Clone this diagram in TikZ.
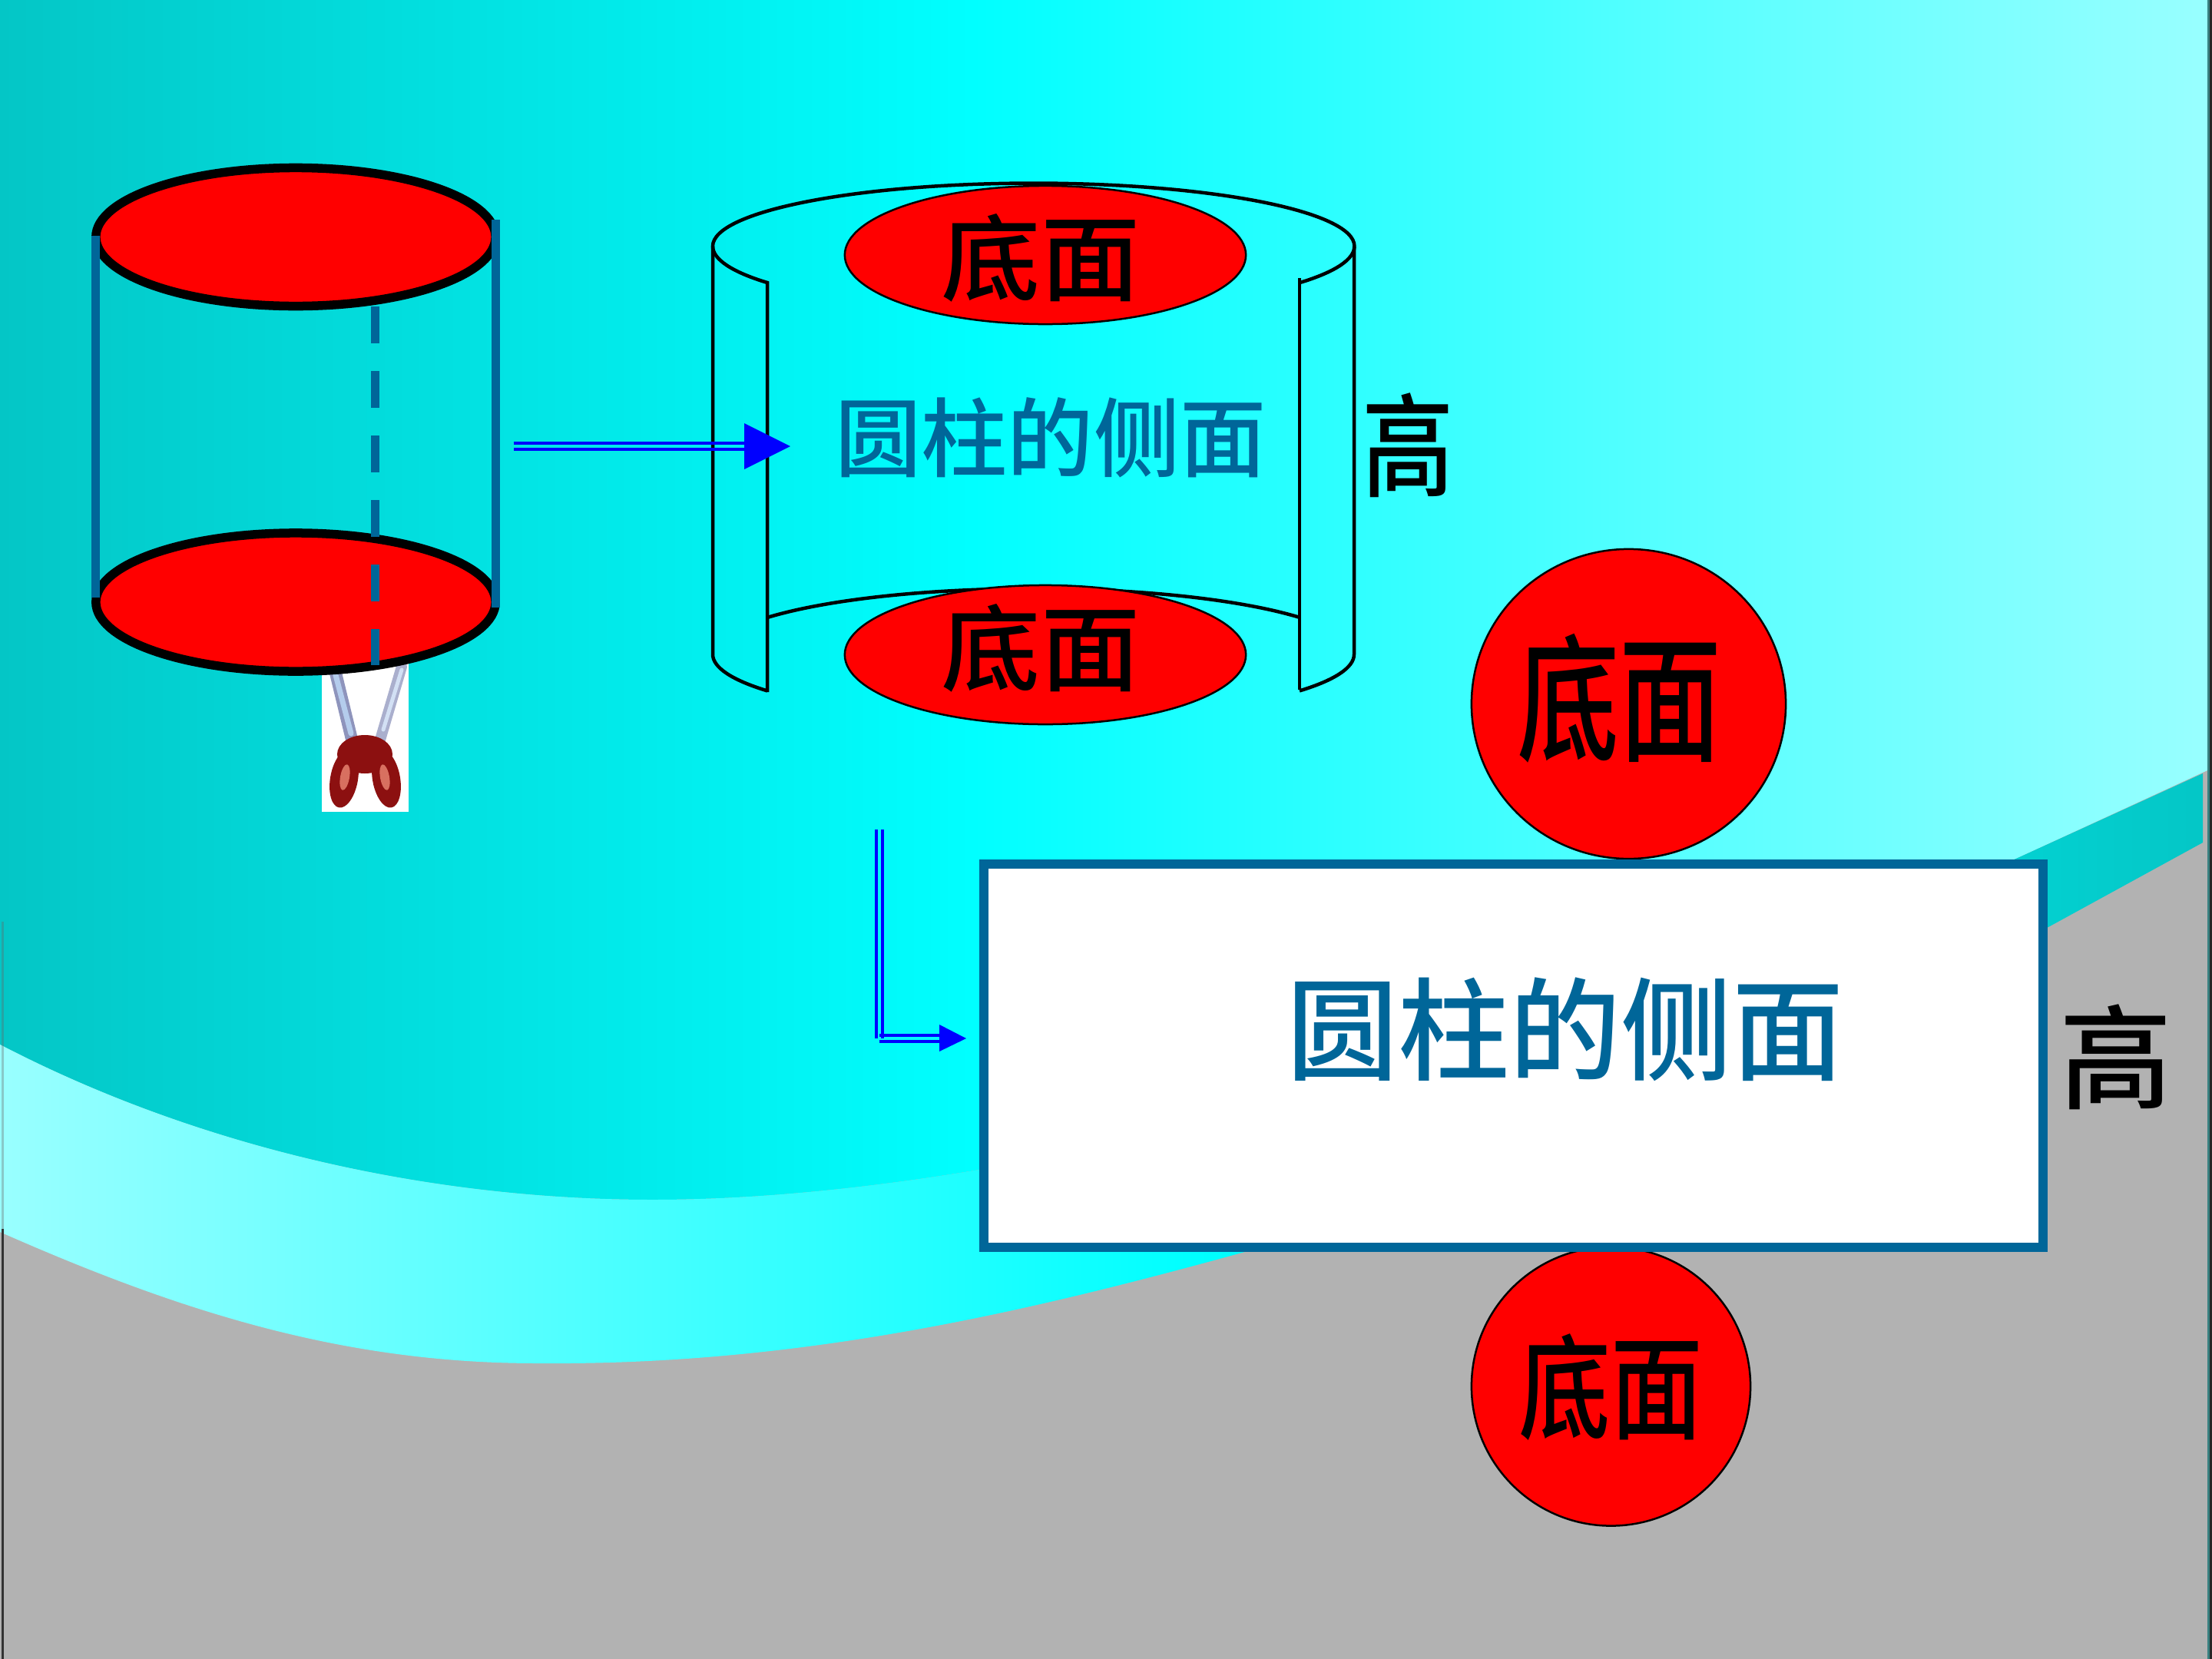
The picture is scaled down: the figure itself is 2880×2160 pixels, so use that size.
\documentclass[tikz,border=0pt]{standalone}
\usepackage{fontspec}
\usepackage{graphicx}
\usetikzlibrary{shapes.geometric}
\newfontfamily\cjk[BoldFont={Noto Sans CJK SC Bold}]{Noto Sans CJK SC Medium}
\definecolor{steel}{HTML}{006699}
\definecolor{paleaqua}{HTML}{99FFFF}
\definecolor{deepteal}{HTML}{04C6C6}
\definecolor{slab}{HTML}{B2B2B2}
\definecolor{pure}{HTML}{0000FF}
\definecolor{grip}{HTML}{8C1010}
\definecolor{gripglow}{HTML}{D87060}
\definecolor{steelblade}{HTML}{8E94BC}
\definecolor{bladeglow}{HTML}{B4CCEC}
% horizontal fades: the part 25bp..75bp spans the whole width of the filled rectangle
\pgfdeclarehorizontalshading{wallfade}{100bp}{color(0bp)=(deepteal); color(25bp)=(deepteal); color(47bp)=(cyan); color(75bp)=(paleaqua); color(100bp)=(paleaqua)}
\pgfdeclarehorizontalshading{bandfade}{100bp}{color(0bp)=(paleaqua); color(25bp)=(paleaqua); color(52bp)=(cyan); color(75bp)=(deepteal); color(100bp)=(deepteal)}
\newcommand{\cjksize}[1]{\fontsize{#1}{#1}\selectfont}
\tikzset{
  rim/.style={draw=black,line width=0.115cm,fill=red,ellipse,inner sep=0pt,minimum width=5.2cm,minimum height=1.8cm},
  lidface/.style={draw=black,line width=0.025cm,fill=red,ellipse,inner sep=0pt},
  edgeline/.style={draw=steel,line width=0.11cm},
  foldline/.style={draw=black,line width=0.045cm},
  railline/.style={draw=pure,line width=0.04cm},
  headfill/.style={fill=pure},
  caption/.style={inner sep=0pt,font=\cjk}
}
\begin{document}
\begin{tikzpicture}[x=0.01cm,y=-0.01cm]
\useasboundingbox (0,0) rectangle (2880,2160);
% backdrop
\fill[slab] (0,0) rectangle (2880,2160);
\begin{scope}
  \clip (0,0) -- (2874,0) -- (2874,1003) -- (2627,1117)
    .. controls (2350,1240) and (2000,1350) .. (1700,1430)
    .. controls (1400,1510) and (1100,1562) .. (850,1562)
    .. controls (550,1562) and (250,1490) .. (0,1360) -- cycle;
  \shade[shading=wallfade] (0,0) rectangle (2880,2160);
\end{scope}
\begin{scope}
  \clip (0,1360) .. controls (250,1490) and (550,1562) .. (850,1562)
    .. controls (1100,1562) and (1400,1510) .. (1700,1430)
    .. controls (2000,1350) and (2350,1240) .. (2627,1117)
    -- (2868,1007) -- (2868,1097) -- (2667,1207) -- (1635,1626)
    .. controls (1350,1705) and (1050,1778) .. (700,1775)
    .. controls (450,1775) and (240,1710) .. (0,1604) -- cycle;
  \shade[shading=bandfade] (0,0) rectangle (2880,2160);
\end{scope}
\fill[black!80] (2,1600) rectangle (5,2160);
\fill[black!60,opacity=0.35] (2,1200) rectangle (5,1600);
\fill[teal!55!gray] (2874,0) rectangle (2877,2160);
\fill[black!85] (2877,0) rectangle (2880,2160);

% scissors under the lower rim
\fill[white] (419,860) rectangle (532,1057);
\begin{scope}[line cap=round]
  \draw[steelblade,line width=0.16cm] (436,872) -- (461,975);
  \draw[bladeglow,line width=0.07cm] (436,875) -- (457,955);
  \draw[steelblade!75!white,line width=0.14cm] (523,868) -- (493,970);
  \draw[bladeglow!60!white,line width=0.05cm] (523,872) -- (499,950);
\end{scope}
\fill[grip] (475,982) ellipse [x radius=36,y radius=25];
\fill[grip,rotate around={-10:(448,1014)}] (448,1014) ellipse [x radius=18,y radius=38];
\fill[grip,rotate around={10:(503,1014)}] (503,1014) ellipse [x radius=18,y radius=38];
\fill[gripglow,rotate around={-10:(449,1012)}] (449,1012) ellipse [x radius=6,y radius=17];
\fill[gripglow,rotate around={10:(501,1012)}] (501,1012) ellipse [x radius=6,y radius=17];

% solid cylinder
\node[rim] (lidlow) at (385,784) {};
\node[rim] (lidtop) at (385,308.5) {};
\coordinate (ltA) at (124.5,307);
\coordinate (ltB) at (124.5,778);
\coordinate (rtA) at (645.5,286);
\coordinate (rtB) at (645.5,791);
\coordinate (cutA) at (488,399);
\coordinate (cutB) at (488,866);
\draw[edgeline] (ltA) -- (ltB);
\draw[edgeline] (rtA) -- (rtB);
\draw[edgeline,dash pattern=on 0.48cm off 0.36cm] (cutA) -- (cutB);

% opened-up shell
\draw[foldline] (999,901) -- (999,368) arc[start angle=213.9,end angle=180,x radius=4.175cm,y radius=0.85cm]
  arc[start angle=180,end angle=0,x radius=4.175cm,y radius=0.82cm]
  arc[start angle=0,end angle=-33.9,x radius=4.175cm,y radius=0.85cm];
\draw[foldline] (1692,898) -- (1692,362);
\draw[foldline] (928,321) -- (928,852) arc[start angle=180,end angle=213.9,x radius=4.175cm,y radius=0.85cm];
\draw[foldline] (1763,321) -- (1763,852) arc[start angle=0,end angle=-33.9,x radius=4.175cm,y radius=0.85cm];
\draw[foldline] (999,804) arc[start angle=146.1,end angle=33.9,x radius=4.175cm,y radius=0.85cm];
\node[lidface,minimum width=5.22cm,minimum height=1.8cm] (shelltop) at (1361,332) {};
\node[lidface,minimum width=5.22cm,minimum height=1.81cm] (shelllow) at (1361,852.5) {};
\node[caption] (shelltopt) at (1355,336) {\cjksize{36.7pt}\scalebox{1}[0.95]{底面}};
\node[caption] (shelllowt) at (1355,844) {\cjksize{36.7pt}\scalebox{1}[0.95]{底面}};
\node[caption,text=steel] (shellname) at (1368,570) {\cjksize{31.9pt}圆柱的侧面};
\node[caption] (shellhigh) at (1833,580) {\cjksize{34pt}\scalebox{1}[1.22]{高}};

% unrolled net
\node[lidface,minimum width=4.09cm,minimum height=4.03cm] (diskup) at (2120.5,916.5) {};
\node[lidface,minimum width=3.63cm,minimum height=3.63cm] (diskdown) at (2097.5,1805) {};
\node[draw=steel,line width=0.12cm,fill=white,inner sep=0pt,minimum width=13.79cm,minimum height=4.99cm] (sheet) at (1970.5,1374.5) {};
\node[caption] (diskupt) at (2108,909) {\cjksize{37.8pt}\scalebox{1}[1.35]{底面}};
\node[caption] (diskdownt) at (2097,1806) {\cjksize{34pt}\scalebox{1}[1.24]{底面}};
\node[caption,text=steel] (sheetname) at (2038,1340) {\cjksize{41.25pt}圆柱的侧面};
\node[caption] (sheethigh) at (2755,1376) {\cjksize{41.8pt}高};

% first double arrow
\coordinate (oneA) at (669,577);
\coordinate (oneB) at (970,577);
\coordinate (oneC) at (669,585);
\coordinate (oneD) at (970,585);
\draw[railline] (oneA) -- (oneB);
\draw[railline] (oneC) -- (oneD);
\fill[headfill] (969,551) -- (1029,581) -- (969,611) -- cycle;

% second double arrow, down and to the right
\coordinate (twoA) at (1141,1080);
\coordinate (twoB) at (1141,1352);
\coordinate (twoC) at (1149,1080);
\coordinate (twoD) at (1149,1352);
\coordinate (twoE) at (1145,1348);
\coordinate (twoF) at (1224,1348);
\coordinate (twoG) at (1145,1356);
\coordinate (twoH) at (1224,1356);
\draw[railline] (twoA) -- (twoB);
\draw[railline] (twoC) -- (twoD);
\draw[railline] (twoE) -- (twoF);
\draw[railline] (twoG) -- (twoH);
\fill[headfill] (1223,1334) -- (1258,1352) -- (1223,1369) -- cycle;
\end{tikzpicture}
\end{document}
